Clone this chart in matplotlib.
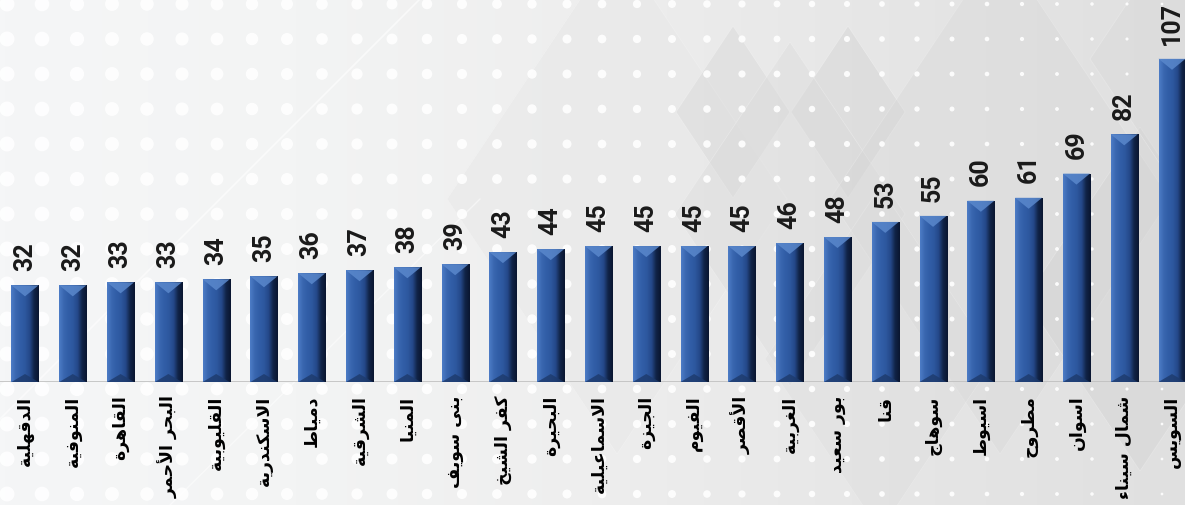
import numpy as np
import matplotlib
matplotlib.use("Agg")
import matplotlib.pyplot as plt
from matplotlib.patches import Polygon
from matplotlib.colors import LinearSegmentedColormap

# data
governorates = ["الدقهلية", "المنوفية", "القاهرة", "البحر الأحمر", "القليوبية",
                "الاسكندرية", "دمياط", "الشرقية", "المنيا", "بنى سويف",
                "كفر الشيخ", "البحيرة", "الاسماعيلية", "الجيزة", "الفيوم",
                "الأقصر", "الغربية", "بور سعيد", "قنا", "سوهاج",
                "اسيوط", "مطروح", "اسوان", "شمال سيناء", "السويس"]
values = [32, 32, 33, 33, 34, 35, 36, 37, 38, 39, 43, 44, 45, 45, 45,
          45, 46, 48, 53, 55, 60, 61, 69, 82, 107]

# matplotlib does no arabic shaping, so pick presentation forms by hand
FORMS = {'ء': (0xFE80, 1), 'آ': (0xFE81, 2), 'أ': (0xFE83, 2), 'ؤ': (0xFE85, 2),
         'إ': (0xFE87, 2), 'ئ': (0xFE89, 4), 'ا': (0xFE8D, 2), 'ب': (0xFE8F, 4),
         'ة': (0xFE93, 2), 'ت': (0xFE95, 4), 'ث': (0xFE99, 4), 'ج': (0xFE9D, 4),
         'ح': (0xFEA1, 4), 'خ': (0xFEA5, 4), 'د': (0xFEA9, 2), 'ذ': (0xFEAB, 2),
         'ر': (0xFEAD, 2), 'ز': (0xFEAF, 2), 'س': (0xFEB1, 4), 'ش': (0xFEB5, 4),
         'ص': (0xFEB9, 4), 'ض': (0xFEBD, 4), 'ط': (0xFEC1, 4), 'ظ': (0xFEC5, 4),
         'ع': (0xFEC9, 4), 'غ': (0xFECD, 4), 'ف': (0xFED1, 4), 'ق': (0xFED5, 4),
         'ك': (0xFED9, 4), 'ل': (0xFEDD, 4), 'م': (0xFEE1, 4), 'ن': (0xFEE5, 4),
         'ه': (0xFEE9, 4), 'و': (0xFEED, 2), 'ى': (0xFEEF, 2), 'ي': (0xFEF1, 4)}
LAM_ALEF = {'آ': 0xFEF5, 'أ': 0xFEF7, 'إ': 0xFEF9, 'ا': 0xFEFB}


def shape(word):
    # merge lam+alef first
    units = []
    i = 0
    while i < len(word):
        c = word[i]
        if c == 'ل' and i + 1 < len(word) and word[i + 1] in LAM_ALEF:
            units.append(('LA', LAM_ALEF[word[i + 1]]))
            i += 2
        else:
            units.append(('C', c))
            i += 1
    out = []
    for k, (kind, c) in enumerate(units):
        prev = units[k - 1] if k > 0 else None
        nxt = units[k + 1] if k + 1 < len(units) else None
        joins_prev = prev is not None and prev[0] == 'C' and prev[1] in FORMS \
            and FORMS[prev[1]][1] == 4
        if kind == 'LA':
            out.append(chr(c + (1 if joins_prev else 0)))
            continue
        if c not in FORMS:
            out.append(c)
            continue
        base, n = FORMS[c]
        joins_next = n == 4 and nxt is not None and (nxt[0] == 'LA' or nxt[1] in FORMS)
        if n == 1:
            off = 0
        elif joins_prev and joins_next:
            off = 3
        elif joins_prev:
            off = 1
        elif joins_next:
            off = 2
        else:
            off = 0
        out.append(chr(base + off))
    return ''.join(out)[::-1]


W, H = 1185, 506
fig = plt.figure(figsize=(W / 100, H / 100), dpi=100)

# ---- background: grey gradient, diamonds, white dots
bg = fig.add_axes([0, 0, 1, 1], zorder=-5)
bg.set_xlim(0, W)
bg.set_ylim(H, 0)
bg.axis('off')
grad = np.linspace(0, 1, 256).reshape(1, -1)
bg_cmap = LinearSegmentedColormap.from_list(
    'bg', ['#f5f6f7', '#f3f4f4', '#eeeeee', '#e6e6e6', '#e0e0e0'])
bg.imshow(grad, extent=[0, W, H, 0], aspect='auto', cmap=bg_cmap, zorder=0)

diamonds = [(617, 200, 170, 255, '#e8e8e8', 0.5), (733, 113, 57, 86, '#d8d8d8', 0.45),
            (848, 113, 57, 86, '#d4d4d4', 0.45), (790, 215, 115, 172, '#dadada', 0.4),
            (1000, 200, 170, 255, '#d4d4d4', 0.3), (1140, 300, 115, 172, '#cfcfcf', 0.35),
            (880, 360, 115, 172, '#dadada', 0.3), (1180, 60, 90, 135, '#d6d6d6', 0.35)]
for cx, cy, hw, hh, col, a in diamonds:
    bg.add_patch(Polygon([(cx, cy - hh), (cx + hw, cy), (cx, cy + hh), (cx - hw, cy)],
                         closed=True, facecolor=col, edgecolor='#f4f4f4', lw=0.6,
                         alpha=a, zorder=1))
bg.plot([0, 420], [420, 0], color='white', lw=1.2, alpha=0.6, zorder=2)
bg.plot([170, 480], [506, 200], color='white', lw=1.0, alpha=0.5, zorder=2)

gx, gy = np.meshgrid(np.arange(7, W, 35), np.arange(5, H, 35))
dot_d = 15 - 12.5 * gx / W
bg.scatter(gx.ravel(), gy.ravel(), s=(dot_d.ravel() * 0.72) ** 2, color='white',
           alpha=0.9, lw=0, zorder=3)

# ---- bars
ax = fig.add_axes([0, (H - 383) / H, 1, 383 / H])
ax.patch.set_alpha(0)
x = np.arange(len(values))
bw = 0.565
bars = ax.bar(x, values, width=bw, color='#2d599f', edgecolor='#8a96a8', lw=0.6, zorder=2)

bar_cmap = LinearSegmentedColormap.from_list(
    'bar', ['#4d7cc6', '#3a67b0', '#315ea7', '#2d589f', '#25498a', '#112448', '#0a1530'])
shade = np.linspace(0, 1, 64).reshape(1, -1)
ymax = 126.8
px = ymax / 383  # data units per pixel
for b, v, xi in zip(bars, values, x):
    x0, x1 = xi - bw / 2, xi + bw / 2
    im = ax.imshow(shade, extent=[x0, x1, 0, v], aspect='auto', cmap=bar_cmap, zorder=3)
    im.set_clip_path(b)
    d = 11 * px
    ax.add_patch(Polygon([(x0, v), (x1, v), (xi, v - d)], closed=True,
                         facecolor='#5a88cc', edgecolor='none', alpha=0.85, zorder=4))
    ax.add_patch(Polygon([(x0, 0), (x1, 0), (xi, 8 * px)], closed=True,
                         facecolor='#1d3a6c', edgecolor='none', alpha=0.8, zorder=4))
    ax.annotate(str(v), (xi, v), xytext=(0, 11), textcoords='offset points',
                rotation=90, ha='center', va='bottom', fontsize=18,
                fontweight='bold', family='Roboto', color='#1a1a1a')

ax.set_xlim(-25 / 47.8, 24 + 13 / 47.8)
ax.set_ylim(0, ymax)
ax.axhline(0, color='#bfbfbf', lw=1.2, zorder=1)
for s in ax.spines.values():
    s.set_visible(False)
ax.set_yticks([])
ax.set_xticks(x)
ax.set_xticklabels([shape(g) for g in governorates], rotation=90, fontsize=12.5,
                   fontweight='bold', family='DejaVu Sans', color='black')
ax.tick_params(axis='x', length=0, pad=9)

fig.savefig('out.png', dpi=100)
